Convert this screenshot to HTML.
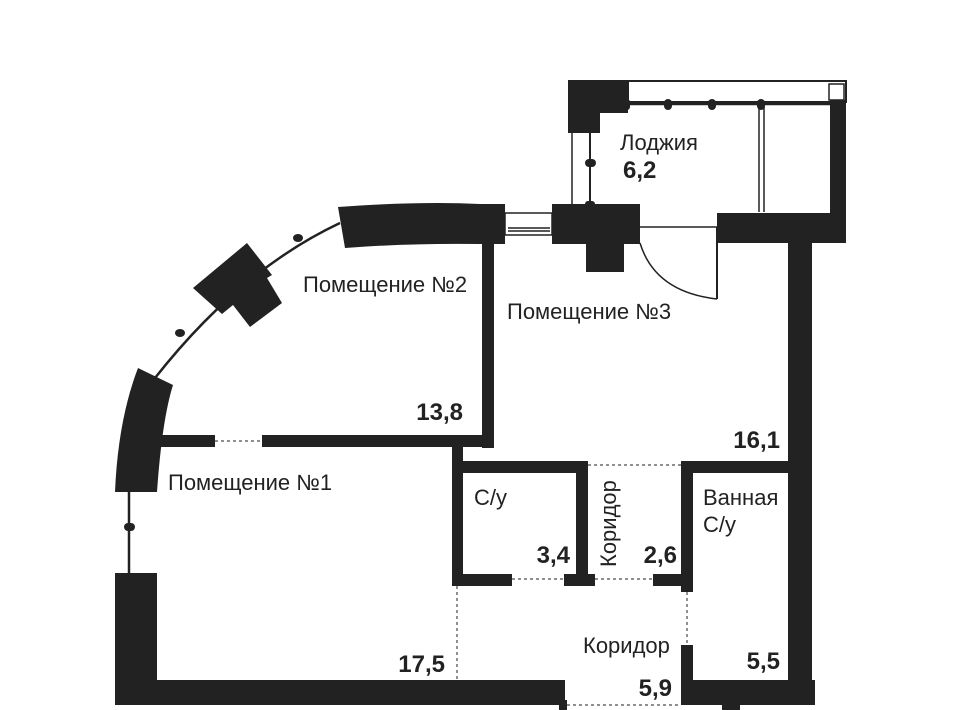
<!DOCTYPE html>
<html><head><meta charset="utf-8"><style>
html,body{margin:0;padding:0;background:#fff;}
svg{display:block;}
text{font-family:"Liberation Sans",sans-serif;fill:#222;}
.l{font-size:22px;}
.b{font-size:24px;font-weight:bold;}
</style></head><body>
<svg width="960" height="710" viewBox="0 0 960 710" xmlns="http://www.w3.org/2000/svg">
<g fill="#222" stroke="none">
<polygon points="568,80 628,80 628,113 600,113 600,133 568,133"/>
<rect x="830" y="100" width="16" height="143"/>
<rect x="552" y="204" width="88" height="40"/>
<rect x="586" y="243" width="38" height="29"/>
<rect x="717" y="213" width="129" height="30"/>
<rect x="480" y="204" width="25" height="40"/>
<path d="M338,207 Q420,201 480,204 L480,244 Q410,243 345,248 Z"/>
<polygon points="193,288 247,243 272,275 267,278 282,303 250,327 233,305 222,314"/>
<path d="M138,368 L173,385 Q162,420 157,492 L115,492 Q118,420 138,368 Z"/>
<rect x="115" y="573" width="42" height="132"/>
<rect x="115" y="680" width="450" height="25"/>
<rect x="559" y="700" width="8" height="10"/>
<rect x="482" y="243" width="12" height="205"/>
<rect x="788" y="243" width="24" height="462"/>
<rect x="160" y="435" width="55" height="12"/>
<rect x="262" y="435" width="232" height="12"/>
<rect x="452" y="435" width="11" height="151"/>
<rect x="452" y="461" width="136" height="12"/>
<rect x="576" y="461" width="12" height="125"/>
<rect x="452" y="574" width="60" height="12"/>
<rect x="564" y="574" width="31" height="12"/>
<rect x="681" y="461" width="131" height="12"/>
<rect x="681" y="461" width="12" height="131"/>
<rect x="653" y="574" width="40" height="12"/>
<rect x="681" y="645" width="12" height="60"/>
<rect x="681" y="680" width="134" height="25"/>
<rect x="722" y="700" width="18" height="10"/>
</g>
<g fill="none" stroke="#222">
<rect x="628" y="81" width="218" height="21" stroke-width="2"/>
<rect x="829" y="84" width="15" height="16" stroke-width="1.5"/>
<line x1="628" y1="104" x2="846" y2="104" stroke-width="2.5"/>
<line x1="759" y1="104" x2="759" y2="212" stroke-width="1.5"/>
<line x1="764" y1="104" x2="764" y2="212" stroke-width="1.5"/>
<line x1="572" y1="133" x2="572" y2="205" stroke-width="1.5"/>
<line x1="590" y1="133" x2="590" y2="205" stroke-width="2"/>
<rect x="505" y="213" width="47" height="22" stroke-width="1.5"/>
<line x1="508" y1="228" x2="550" y2="228" stroke-width="1.5"/>
<line x1="508" y1="231" x2="550" y2="231" stroke-width="1.5"/>
<line x1="640" y1="227" x2="717" y2="227" stroke-width="1.5"/>
<line x1="717" y1="227" x2="717" y2="299" stroke-width="2"/>
<path d="M640,243 Q655,292 717,299" stroke-width="1.5"/>
<path d="M155,378 Q240,270 340,223" stroke-width="2.5"/>
<line x1="129" y1="490" x2="129" y2="573" stroke-width="2.5"/>
<g stroke-dasharray="3,3" stroke-width="1">
<line x1="215" y1="441" x2="262" y2="441"/>
<line x1="512" y1="579" x2="564" y2="579"/>
<line x1="595" y1="579" x2="653" y2="579"/>
<line x1="588" y1="465" x2="681" y2="465"/>
<line x1="687" y1="592" x2="687" y2="645"/>
<line x1="457" y1="586" x2="457" y2="680"/>
<line x1="567" y1="705" x2="681" y2="705"/>
</g>
</g>
<g fill="#222">
<rect x="664" y="99" width="8" height="11" rx="4"/>
<rect x="708" y="99" width="8" height="11" rx="4"/>
<rect x="757" y="99" width="8" height="11" rx="4"/>
<rect x="624" y="99" width="6" height="11" rx="3"/>
<rect x="585" y="159" width="11" height="8" rx="4"/>
<rect x="585" y="201" width="10" height="7" rx="3"/>
<rect x="124" y="523" width="11" height="8" rx="4"/>
<ellipse cx="298" cy="238" rx="5" ry="4"/>
<ellipse cx="180" cy="333" rx="5" ry="4"/>
</g>
<text class="l" x="620" y="150">Лоджия</text>
<text class="b" x="623" y="178">6,2</text>
<text class="l" x="303" y="292">Помещение №2</text>
<text class="l" x="507" y="319">Помещение №3</text>
<text class="l" x="168" y="490">Помещение №1</text>
<text class="b" x="463" y="420" text-anchor="end">13,8</text>
<text class="b" x="780" y="448" text-anchor="end">16,1</text>
<text class="l" x="474" y="505">С/у</text>
<text class="b" x="570" y="563" text-anchor="end">3,4</text>
<text class="l" transform="translate(616,567) rotate(-90)">Коридор</text>
<text class="b" x="677" y="563" text-anchor="end">2,6</text>
<text class="l" x="703" y="505">Ванная</text>
<text class="l" x="703" y="532">С/у</text>
<text class="l" x="583" y="653">Коридор</text>
<text class="b" x="672" y="696" text-anchor="end">5,9</text>
<text class="b" x="780" y="669" text-anchor="end">5,5</text>
<text class="b" x="445" y="672" text-anchor="end">17,5</text>
</svg>
</body></html>
